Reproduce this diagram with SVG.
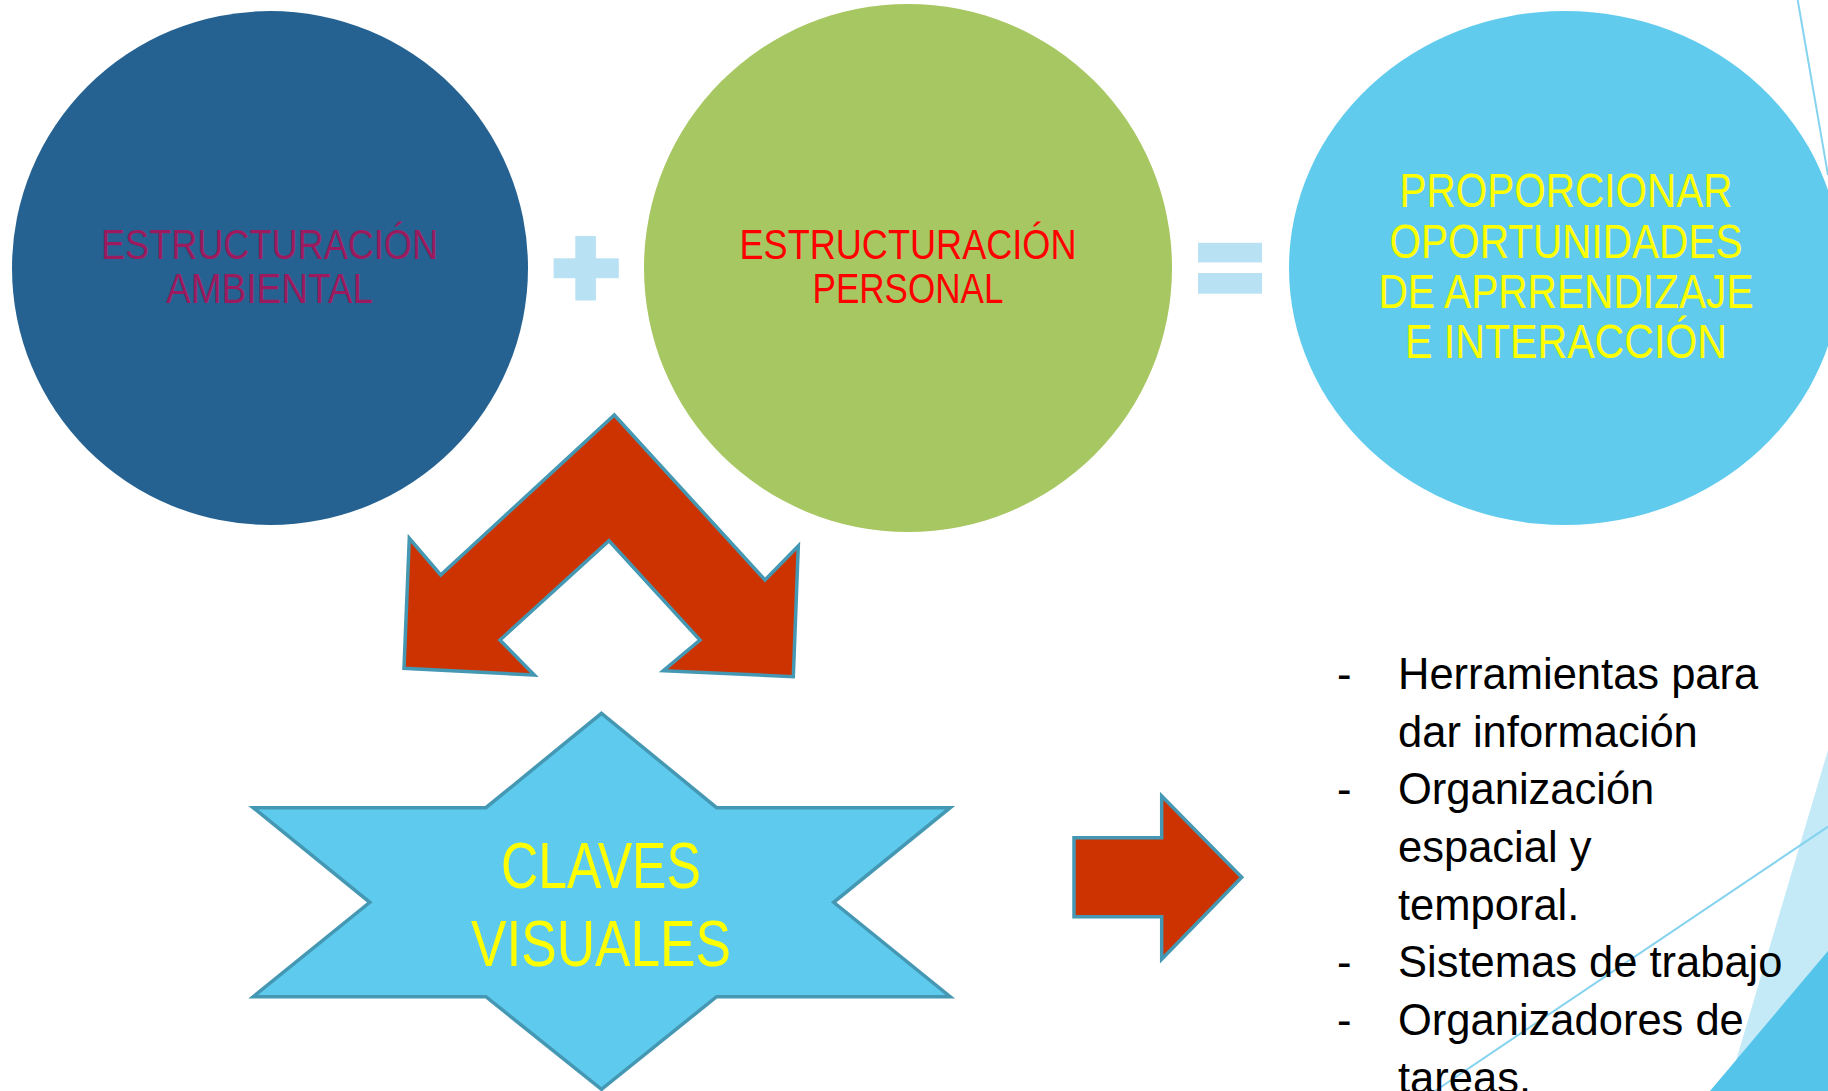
<svg xmlns="http://www.w3.org/2000/svg" width="1828" height="1091" viewBox="0 0 1828 1091">
<style>
.cap{font-family:"Liberation Sans Narrow","Liberation Sans",Arial,sans-serif;text-anchor:middle}
.t1{font-size:43px}
.t2{font-size:48px;fill:#ffff00}
.t3{font-size:64px;fill:#ffff00}
.list{font-family:"Liberation Sans",Arial,sans-serif;font-size:43.5px;fill:#000}
.bigarrow{fill:#cc3300;stroke:#4598b3;stroke-width:3.5;stroke-linejoin:miter}
.op{fill:#b8e2f3}
.deco{stroke:#86d3f0;stroke-width:2;fill:none}
</style>
<rect x="0" y="0" width="1828" height="1091" fill="#ffffff"/>
<!-- decorations -->
<polygon points="1828,750 1828,1091 1727,1091" fill="#c4eaf8"/>
<polygon points="1828,951 1828,1091 1710,1091" fill="#55c4ea"/>
<line class="deco" x1="1828" y1="826.7" x2="1435" y2="1091"/>
<line class="deco" x1="1797.7" y1="0" x2="1828" y2="175"/>

<g id="node-ambiental">
<ellipse cx="270" cy="268" rx="258" ry="257" fill="#256291"/>
<text class="cap t1" fill="#9b1b5e" x="269.5" y="259" textLength="337" lengthAdjust="spacingAndGlyphs">ESTRUCTURACIÓN</text>
<text class="cap t1" fill="#9b1b5e" x="269.5" y="303" textLength="207" lengthAdjust="spacingAndGlyphs">AMBIENTAL</text>
</g>
<g id="node-personal">
<ellipse cx="908" cy="268" rx="264" ry="264" fill="#a7c763"/>
<text class="cap t1" fill="#ff0000" x="908" y="259" textLength="337" lengthAdjust="spacingAndGlyphs">ESTRUCTURACIÓN</text>
<text class="cap t1" fill="#ff0000" x="908" y="303" textLength="191" lengthAdjust="spacingAndGlyphs">PERSONAL</text>
</g>
<g id="node-resultado">
<ellipse cx="1565" cy="268" rx="276" ry="257" fill="#61cbee"/>
<text class="cap t2" x="1566" y="206.6" textLength="333" lengthAdjust="spacingAndGlyphs">PROPORCIONAR</text>
<text class="cap t2" x="1566" y="257.6" textLength="353" lengthAdjust="spacingAndGlyphs">OPORTUNIDADES</text>
<text class="cap t2" x="1566" y="307.5" textLength="375" lengthAdjust="spacingAndGlyphs">DE APRRENDIZAJE</text>
<text class="cap t2" x="1566" y="358" textLength="322" lengthAdjust="spacingAndGlyphs">E INTERACCIÓN</text>
</g>
<g id="node-claves">
<polygon points="601.5,713.3 716.6,807.7 950.2,807.7 833.7,902.3 950.2,996.7 716.6,996.7 601.5,1089.3 485.9,996.7 253.2,996.7 369.8,902.3 253.2,807.7 485.9,807.7" fill="#5ecbee" stroke="#4598b3" stroke-width="3.5" stroke-linejoin="miter"/>
<text class="cap t3" x="601" y="888.3" textLength="200" lengthAdjust="spacingAndGlyphs">CLAVES</text>
<text class="cap t3" x="601" y="965.7" textLength="260" lengthAdjust="spacingAndGlyphs">VISUALES</text>
</g>
<g id="node-lista">
<text class="list" x="1337" y="688.8">-</text>
<text class="list" x="1398" y="688.8">Herramientas para</text>
<text class="list" x="1398" y="746.5">dar información</text>
<text class="list" x="1337" y="804.2">-</text>
<text class="list" x="1398" y="804.2">Organización</text>
<text class="list" x="1398" y="861.9">espacial y</text>
<text class="list" x="1398" y="919.6">temporal.</text>
<text class="list" x="1337" y="977.3">-</text>
<text class="list" x="1398" y="977.3">Sistemas de trabajo</text>
<text class="list" x="1337" y="1035">-</text>
<text class="list" x="1398" y="1035">Organizadores de</text>
<text class="list" x="1398" y="1092.7">tareas.</text>
</g>
<g id="connectors">
<g id="op-plus">
<rect class="op" x="575.3" y="236" width="20.6" height="64.5"/>
<rect class="op" x="553.6" y="258.3" width="65.2" height="19.9"/>
</g>
<g id="op-equals">
<rect class="op" x="1198" y="242.8" width="64" height="19.6"/>
<rect class="op" x="1198" y="273" width="64" height="20.7"/>
</g>
<polygon id="arrow-split" class="bigarrow" points="614.3,415 765,580 798.3,546 793.3,676.7 663.3,670.7 700,640 609,540.7 500,640 534.3,675 404,668.3 409.3,538.3 440.7,575"/>
<polygon id="arrow-right" class="bigarrow" points="1074,837.7 1161.7,837.7 1161.7,796 1241.7,877.3 1161.7,959.3 1161.7,916.7 1074,916.7"/>
</g>
</svg>
